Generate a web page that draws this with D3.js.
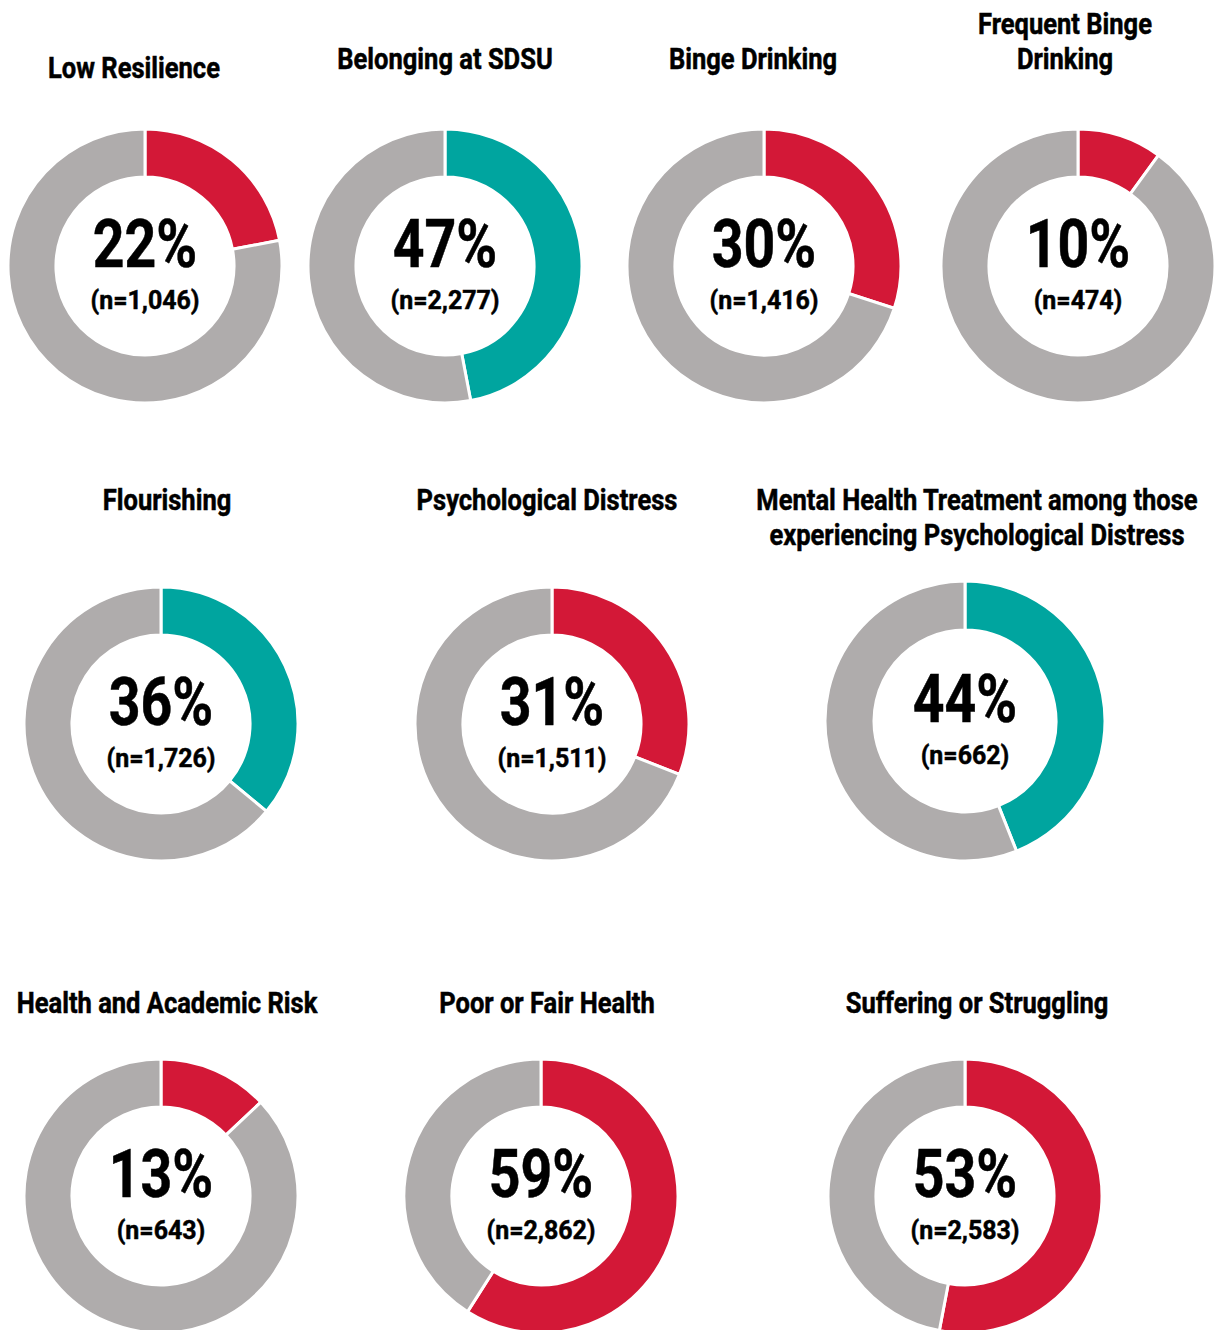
<!DOCTYPE html>
<html lang="en">
<head>
<meta charset="UTF-8">
<title>Donuts</title>
<script src="https://d3js.org/d3.v7.min.js"></script>
<style>
  body { margin: 0; background: #fff; }
  text { font-family: Roboto, "Liberation Sans", sans-serif; font-weight: 700; fill: #000; stroke: #000; stroke-width: 0.5px; }
</style>
</head>
<body>
<svg width="1215" height="1330"></svg>
<script>
// data
let titles = [
  ['Low Resilience'],
  ['Belonging at SDSU'],
  ['Binge Drinking'],
  ['Frequent Binge', 'Drinking'],
  ['Flourishing'],
  ['Psychological Distress'],
  ['Mental Health Treatment among those', 'experiencing Psychological Distress'],
  ['Health and Academic Risk'],
  ['Poor or Fair Health'],
  ['Suffering or Struggling']
]
let percents = [22, 47, 30, 10, 36, 31, 44, 13, 59, 53]
let counts = ['1,046', '2,277', '1,416', '474', '1,726', '1,511', '662', '643', '2,862', '2,583']

// layout: donut center, title center and first baseline, highlight color
let red = '#d31837', teal = '#00a59f', grey = '#afacac'
let layout = [
  {cx: 145, cy: 266, tx: 134, ty: 78, c: red},
  {cx: 445, cy: 266, tx: 445, ty: 69, c: teal},
  {cx: 764, cy: 266, tx: 753, ty: 69, c: red},
  {cx: 1078, cy: 266, tx: 1065, ty: 34, c: red},
  {cx: 161, cy: 724, tx: 167, ty: 510, c: teal},
  {cx: 552, cy: 724, tx: 547, ty: 510, c: red},
  {cx: 965, cy: 721, tx: 977, ty: 510, c: teal, r: 140},
  {cx: 161, cy: 1196, tx: 167, ty: 1013, c: red},
  {cx: 541, cy: 1196, tx: 547, ty: 1013, c: red},
  {cx: 965, cy: 1196, tx: 977, ty: 1013, c: red}
]

let svg = d3.select('svg')

// no condensed face installed, so squeeze Roboto sideways
function label(g, x, y, str, size, squeeze) {
  g.append('text')
    .attr('transform', `translate(${x},${y}) scale(${squeeze},1)`)
    .attr('text-anchor', 'middle')
    .style('font-size', size + 'px')
    .text(str)
}

let pie = d3.pie().sort(null).value(d => d)

percents.forEach((p, i) => {
  let L = layout[i]
  let ro = L.r || 137
  let arc = d3.arc().innerRadius(ro * 0.65).outerRadius(ro)

  let g = svg.append('g')
  let donut = g.append('g').attr('transform', `translate(${L.cx},${L.cy})`)
  donut.selectAll('path')
    .data(pie([p, 100 - p]))
    .join('path')
    .attr('d', arc)
    .style('fill', (d, j) => j == 0 ? L.c : grey)
    .style('stroke', '#fff')
    .style('stroke-width', 3)

  titles[i].forEach((t, k) => label(g, L.tx, L.ty + k * 35, t, 29, 0.88))
  label(g, L.cx, L.cy + 1, p + '%', 66, 0.84)
  label(g, L.cx, L.cy + 43, '(n=' + counts[i] + ')', 26, 0.96)
})
</script>
</body>
</html>
